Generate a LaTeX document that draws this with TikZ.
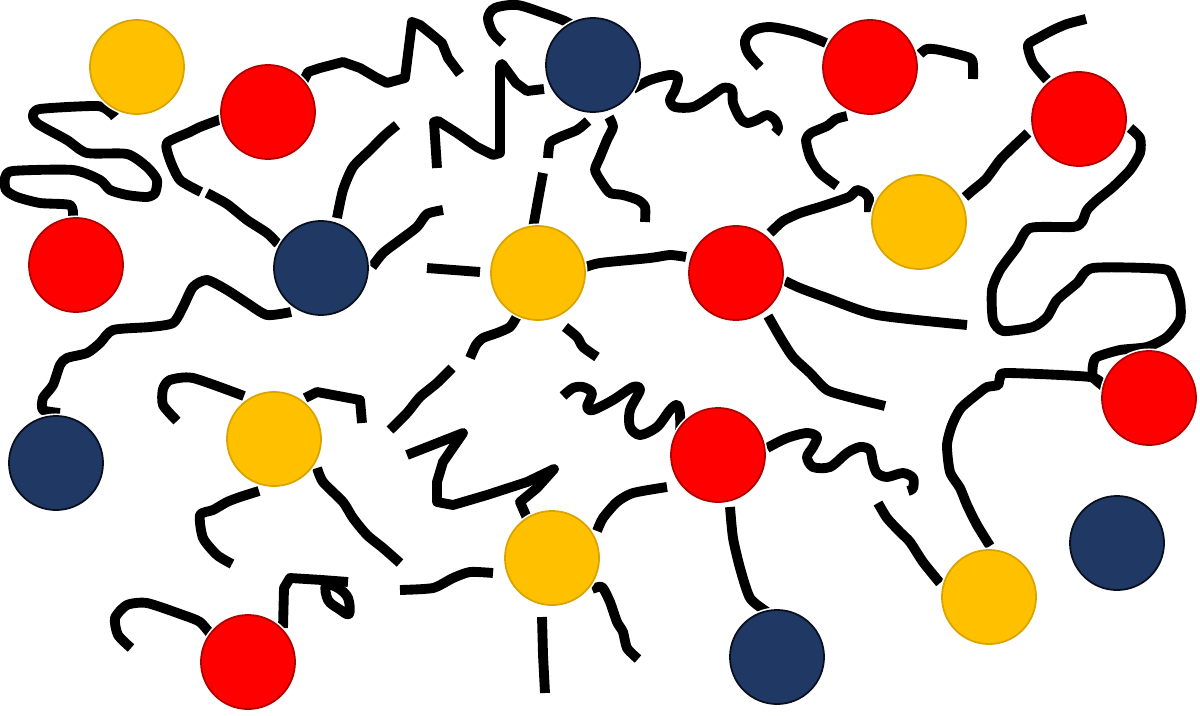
\documentclass[tikz,border=0pt]{standalone}
\definecolor{bY}{HTML}{FFC000}
\definecolor{bYd}{HTML}{D9A400}
\definecolor{bR}{HTML}{FF0000}
\definecolor{bRd}{HTML}{B00000}
\definecolor{bN}{HTML}{1F3864}
\definecolor{bNd}{HTML}{0A0F1E}
\newcommand\drawball[2]{\fill[white] (#2) circle (0.495cm); \filldraw[#1] (#2) circle (0.47cm);}
\begin{document}
\begin{tikzpicture}[x={(0.01cm,0)},y={(0,-0.01cm)},
  strand/.style={line width=2.8pt, line join=round, line cap=butt},
  ballY/.style={fill=bY, draw=bYd, line width=0.5pt},
  ballR/.style={fill=bR, draw=bRd, line width=0.5pt},
  ballN/.style={fill=bN, draw=bNd, line width=0.5pt}]
\fill[white] (0,0) rectangle (1200,715);
\useasboundingbox (0,0) rectangle (1200,715);

% ---- strands ----
\draw[strand] plot[smooth, tension=0.4] coordinates {(115,117) (110,112) (97,106) (40,109) (33,116) (38,124) (67,140) (87,153) (127,154) (147,167) (157,180) (155,193) (147,197) (127,195) (110,190) (100,180) (73,170) (13,171) (5,178) (6,190) (17,197) (40,203) (70,205) (73,216)};
\draw[strand] (302,84) -- (308,72) -- (320,68) -- (343,62) -- (360,68) -- (377,78) -- (387,83) -- (405,78) -- (412,22) -- (420,25) -- (430,33) -- (442,43) -- (448,58) -- (460,74);
\draw[strand] plot[smooth, tension=0.4] coordinates {(224,118) (200,127) (190,132) (167,143) (170,160) (180,180) (201,192)};
\draw[strand] plot[smooth, tension=0.4] coordinates {(207,193) (227,204) (247,220) (267,233) (278,244)};
\draw[strand] plot[smooth, tension=0.4] coordinates {(337,218) (343,190) (353,167) (370,150) (385,135) (397,125)};
\draw[strand] plot[smooth, tension=0.4] coordinates {(372,267) (383,253) (400,240) (417,227) (427,214) (443,210)};
\draw[strand] plot[smooth, tension=0.4] coordinates {(291,312) (267,315) (247,303) (227,290) (207,280) (193,287) (183,307) (173,323) (150,327) (113,330) (100,343) (87,353) (67,358) (60,365) (53,385) (43,398) (43,410) (60,413)};
\draw[strand] plot[smooth, tension=0.5] coordinates {(583,33) (567,22) (543,13) (517,5) (495,8) (488,18) (493,33) (503,43)};
\draw[strand] (544,89) -- (527,91) -- (516,83) -- (502,64) -- (500,66) -- (500,153) -- (493,155) -- (477,147) -- (457,133) -- (438,121) -- (434,122) -- (437,168);
\draw[strand] plot[smooth, tension=0.4] coordinates {(588,121) (577,130) (560,137) (550,143) (548,158)};
\draw[strand] (543,173) -- (538,200) -- (533,228);
\draw[strand] plot[smooth, tension=0.4] coordinates {(609,117) (613,127) (607,140) (600,157) (595,170) (602,183) (610,193) (623,195) (638,200) (645,207) (645,222)};
\draw[strand] plot[smooth, tension=0.5] coordinates {(633,89) (650,80) (670,75) (678,78) (675,90) (670,100) (675,107) (693,107) (710,97) (723,88) (732,90) (733,103) (740,118) (747,123) (757,120) (767,115) (775,120) (778,128) (775,133)};
\draw[strand] plot[smooth, tension=0.5] coordinates {(826,43) (800,33) (770,27) (752,31) (745,41) (748,53) (760,67)};
\draw[strand] plot[smooth, tension=0.4] coordinates {(920,54) (927,49) (940,50) (970,58) (973,67) (973,79)};
\draw[strand] plot[smooth, tension=0.4] coordinates {(847,116) (836,119) (827,126) (811,133) (806,140) (810,157) (820,173) (837,186)};
\draw[strand] plot[smooth, tension=0.3] coordinates {(770,233) (783,221) (800,213) (823,206) (849,197) (857,190) (865,193)} -- (869,198) -- (869,212);
\draw[strand] plot[smooth, tension=0.4] coordinates {(965,197) (973,190) (986,179) (1000,160) (1013,147) (1028,133)};
\draw[strand] plot[smooth, tension=0.4] coordinates {(1047,80) (1033,63) (1028,45) (1040,37) (1053,30) (1067,24) (1086,19)};
\draw[strand] plot[smooth, tension=0.4] coordinates {(1130,128) (1140,138) (1140,153) (1130,170) (1113,187) (1097,200) (1087,210) (1082,222) (1073,227) (1030,228) (1017,247) (1000,270) (992,290) (993,320) (1003,331) (1033,327) (1047,317) (1057,300) (1077,283) (1093,268) (1163,269) (1173,278) (1180,300) (1180,320) (1167,337) (1147,347) (1120,350) (1097,357) (1093,365) (1093,377) (1103,386)};
\draw[strand] plot[smooth, tension=0.4] coordinates {(1103,386) (1090,377) (1007,373) (1000,378) (998,385) (987,387) (980,392) (961,408) (952,425) (947,445) (950,472) (960,488) (967,505) (977,525) (990,546)};
\draw[strand] plot[smooth, tension=0.4] coordinates {(785,281) (800,288) (827,298) (877,315) (967,325)};
\draw[strand] plot[smooth, tension=0.4] coordinates {(768,316) (780,337) (793,357) (810,373) (827,390) (853,398) (885,406)};
\draw[strand] (427,268) -- (480,272);
\draw[strand] plot[smooth, tension=0.4] coordinates {(583,268) (600,263) (650,258) (670,255) (686,257)};
\draw[strand] plot[smooth, tension=0.4] coordinates {(517,316) (510,327) (497,333) (483,338) (476,345) (470,358)};
\draw[strand] plot[smooth, tension=0.4] coordinates {(452,368) (437,383) (420,397) (407,413) (390,430)};
\draw[strand] plot[smooth, tension=0.4] coordinates {(565,327) (577,337) (583,347) (597,357)};
\draw[strand] (407,455) -- (463,433) -- (443,462) -- (437,482) -- (437,502) -- (453,505) -- (487,495) -- (527,482) -- (554,469) -- (537,488) -- (520,502) -- (527,518);
\draw[strand] plot[smooth, tension=0.5] coordinates {(563,396) (573,388) (583,387) (592,393) (587,407) (593,410) (613,400) (633,387) (640,390) (630,410) (630,427) (640,435) (657,427) (670,410) (677,405) (680,414) (680,443)};
\draw[strand] plot[smooth, tension=0.5] coordinates {(767,448) (787,438) (807,433) (817,437) (813,447) (807,457) (813,467) (830,467) (847,453) (860,447) (870,450) (873,463) (877,473) (887,477) (903,473) (913,478) (913,488) (908,491)};
\draw[strand] plot[smooth, tension=0.4] coordinates {(878,503) (887,518) (900,532) (910,542) (923,562) (940,583)};
\draw[strand] plot[smooth, tension=0.4] coordinates {(667,487) (633,493) (617,502) (603,518) (597,531)};
\draw[strand] plot[smooth, tension=0.4] coordinates {(730,507) (733,538) (740,568) (750,598) (767,612) (777,619)};
\draw[strand] plot[smooth, tension=0.4] coordinates {(493,573) (470,572) (453,578) (433,588) (400,590)};
\draw[strand] (542,617) -- (543,655) -- (545,693);
\draw[strand] plot[smooth, tension=0.4] coordinates {(592,589) (602,587) (610,602) (617,622) (623,632) (627,648) (638,659)};
\draw[strand] plot[smooth, tension=0.4] coordinates {(244,396) (193,378) (170,380) (163,389) (163,405) (177,421)};
\draw[strand] plot[smooth, tension=0.4] coordinates {(305,398) (317,392)} -- (360,400) -- (362,423);
\draw[strand] plot[smooth, tension=0.4] coordinates {(259,491) (240,497) (227,502) (213,510) (200,515) (203,538) (217,555) (232,564)};
\draw[strand] plot[smooth, tension=0.4] coordinates {(317,468) (323,482) (343,502) (353,518) (367,535) (383,548) (400,563)};
\draw[strand] plot[smooth, tension=0.4] coordinates {(212,636) (200,622) (183,615) (147,603) (127,605) (115,618) (118,635) (131,648)};
\draw[strand] (283,628) -- (284,588) -- (290,578) -- (322,580) -- (348,582);
\draw[strand] plot[smooth cycle, tension=0.6] coordinates {(326,585) (328,600) (339,609) (349,614) (348,598) (338,588)};

% ---- balls ----
\drawball{ballY}{137,67}
\drawball{ballR}{268,112}
\drawball{ballR}{76,265}
\drawball{ballN}{321,268}
\drawball{ballN}{593,65}
\drawball{ballY}{538,273}
\drawball{ballR}{736,273}
\drawball{ballR}{870,67}
\drawball{ballR}{1079,119}
\drawball{ballY}{919,222}
\drawball{ballN}{56,463}
\drawball{ballY}{274,439}
\drawball{ballR}{248,662}
\drawball{ballY}{552,558}
\drawball{ballR}{718,455}
\drawball{ballN}{777,657}
\drawball{ballR}{1149,398}
\drawball{ballN}{1117,543}
\drawball{ballY}{989,597}
\end{tikzpicture}
\end{document}
